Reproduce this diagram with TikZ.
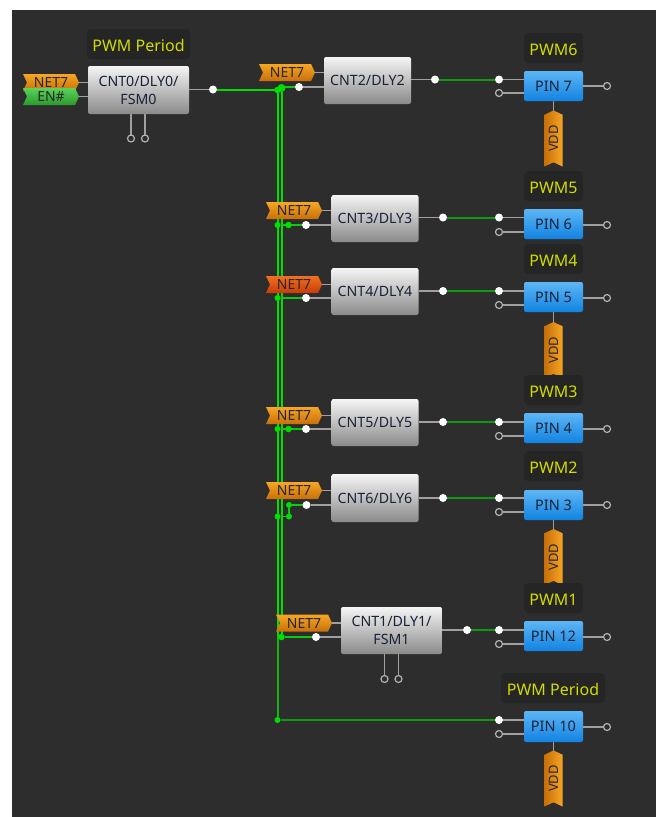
\documentclass[tikz,border=0pt]{standalone}
\usepackage{fontspec}
\setmainfont{Noto Sans}
\usetikzlibrary{backgrounds,shapes.symbols}
\definecolor{panelbg}{HTML}{2D2D2D}
\definecolor{lblbg}{HTML}{252525}
\definecolor{lblfg}{HTML}{D2DC00}
\definecolor{inkfg}{HTML}{1A2238}
\definecolor{leadgr}{HTML}{A0A0A0}
\definecolor{wirehi}{HTML}{00E000}
\definecolor{wiremd}{HTML}{10C810}
\definecolor{wiresp}{HTML}{14B414}
\definecolor{wirelo}{HTML}{109A10}
\definecolor{pintop}{HTML}{5CB6F5}
\definecolor{pinbot}{HTML}{1282E2}
\definecolor{nettop}{HTML}{F6A623}
\definecolor{netbot}{HTML}{C8700A}
\definecolor{redtop}{HTML}{F2701E}
\definecolor{redbot}{HTML}{C83C0A}
\definecolor{entop}{HTML}{5CD25C}
\definecolor{enbot}{HTML}{2A9A2A}
\tikzset{
  block/.style={rectangle,rounded corners=2pt,top color=white!96!black,bottom color=black!46,
    text=inkfg,align=center,inner sep=0pt,outer sep=0pt,font=\fontsize{14.2}{18}\selectfont},
  pinbox/.style={rectangle,rounded corners=2pt,top color=pintop,bottom color=pinbot,
    text=inkfg,minimum width=59pt,minimum height=30pt,inner sep=0pt,outer sep=0pt,
    font=\fontsize{14.5}{16}\selectfont},
  titlelbl/.style={rectangle,rounded corners=4pt,fill=lblbg,text=lblfg,minimum height=30pt,
    text height=14pt,text depth=0pt,inner sep=0pt,outer sep=0pt,font=\fontsize{16}{18}\selectfont},
  tagbase/.style={signal,signal to=east,signal from=west,signal pointer angle=130,
    minimum width=56pt,minimum height=17pt,inner sep=0pt,outer sep=0pt,text=black!85,
    font=\fontsize{14}{15}\selectfont},
  nettag/.style={tagbase,top color=nettop,bottom color=netbot},
  entag/.style={tagbase,top color=entop,bottom color=enbot},
  redtag/.style={tagbase,top color=redtop,bottom color=redbot},
  vddtag/.style={tagbase,rotate=90,left color=netbot,right color=nettop,
    minimum height=18pt,font=\fontsize{13}{14}\selectfont},
  dotw/.style={circle,fill=white,minimum size=8pt,inner sep=0pt,outer sep=0pt},
  holl/.style={circle,draw=black!30,fill=panelbg,line width=1.2pt,minimum size=7pt,inner sep=0pt,outer sep=0pt},
  jct/.style={circle,fill=wirehi,minimum size=8pt,inner sep=0pt,outer sep=0pt},
  jctsm/.style={circle,fill=wirehi,minimum size=6.5pt,inner sep=0pt,outer sep=0pt},
  lead/.style={leadgr,line width=1.1pt},
  wirea/.style={wirehi,line width=2pt},
  wireb/.style={wiremd,line width=1.8pt},
  wirec/.style={wirelo,line width=2pt},
  wired/.style={wiresp,line width=2pt},
}
\begin{document}
\begin{tikzpicture}[x=1pt,y=-1pt]
  \useasboundingbox (0,0) rectangle (659,817);
  % first counter
  \node[titlelbl,minimum width=103pt] (lbl0) at (138.5,44) {PWM Period};
  \node[block,minimum width=101pt,minimum height=48pt] (cnt0) at (138.5,90) {CNT0/DLY0/\\FSM0};
  \node[nettag] (net0) at (51,82.5) {NET7};
  \node[entag] (en0) at (51,96.5) {EN\#};
  \node[dotw] (out0) at (213,89.5) {};
  \node[holl] (rst0) at (131,138.5) {};
  \node[holl] (up0) at (145,138.5) {};
  % main junctions
  \node[jct] (jtop) at (281.5,88) {};
  \node[jctsm] (jtopl) at (277.5,90) {};
  \coordinate (jsplit) at (277.5,637);
  \node[jct,minimum size=6pt] (jbot) at (277.5,720) {};
  % counters
  \node[block,minimum width=87pt,minimum height=47pt] (cnt2) at (367.5,80.5) {CNT2/DLY2};
  \node[nettag] (net2) at (287,72.5) {NET7};
  \node[dotw] (in2) at (299,87) {};
  \node[dotw] (out2) at (435,79.5) {};
  \node[block,minimum width=87pt,minimum height=47pt] (cnt3) at (375,218.5) {CNT3/DLY3};
  \node[nettag] (net3) at (294,210.5) {NET7};
  \node[dotw] (in3) at (306,225) {};
  \node[jctsm] (ja3) at (288.5,225) {};
  \node[jctsm,minimum size=6pt] (jb3) at (277.5,225) {};
  \node[dotw] (out3) at (443,217.5) {};
  \node[block,minimum width=87pt,minimum height=47pt] (cnt4) at (375,291.5) {CNT4/DLY4};
  \node[redtag] (net4) at (294,284.5) {NET7};
  \node[dotw] (in4) at (306,298) {};
  \node[jctsm,minimum size=6pt] (jb4) at (277.5,298) {};
  \node[dotw] (out4) at (443,291) {};
  \node[block,minimum width=87pt,minimum height=47pt] (cnt5) at (375,422.5) {CNT5/DLY5};
  \node[nettag] (net5) at (294,415.5) {NET7};
  \node[dotw] (in5) at (306,429) {};
  \node[jctsm] (ja5) at (288.5,429) {};
  \node[jctsm,minimum size=6pt] (jb5) at (277.5,429) {};
  \node[dotw] (out5) at (443,422) {};
  \node[block,minimum width=87pt,minimum height=48pt] (cnt6) at (375,498) {CNT6/DLY6};
  \node[nettag] (net6) at (294,490.5) {NET7};
  \node[dotw] (in6) at (306.5,505) {};
  \node[jctsm,minimum size=6pt] (ja6) at (289,505) {};
  \node[jctsm,minimum size=6pt] (jc6) at (289,516.5) {};
  \node[jctsm,minimum size=6pt] (jb6) at (277.5,516.5) {};
  \node[dotw] (out6) at (443,498) {};
  \node[block,minimum width=101pt,minimum height=47pt] (cnt1) at (391.5,630.5) {CNT1/DLY1/\\FSM1};
  \node[nettag] (net1) at (304,623) {NET7};
  \node[dotw] (in1) at (316,637) {};
  \node[jct,minimum size=6.5pt] (jb1) at (281.5,637) {};
  \node[dotw] (out1) at (467,630) {};
  \node[holl] (rst1) at (384.5,679) {};
  \node[holl] (up1) at (398.5,679) {};
  % pins
  \node[vddtag] (vdd7) at (553.5,138.5) {VDD};
  \node[vddtag] (vdd5) at (553.5,350) {VDD};
  \node[vddtag] (vdd3) at (553.5,557) {VDD};
  \node[vddtag] (vdd10) at (553.5,778.5) {VDD};
  \node[titlelbl,minimum width=59pt] (lbl7) at (553.5,48) {PWM6};
  \node[pinbox] (pin7) at (553.5,86) {PIN 7};
  \node[dotw] (pa7) at (499,79.5) {};
  \node[holl] (pb7) at (499,93) {};
  \node[holl] (pc7) at (607,86) {};
  \node[titlelbl,minimum width=59pt] (lbl6) at (553.5,186) {PWM5};
  \node[pinbox] (pin6) at (553.5,224) {PIN 6};
  \node[dotw] (pa6) at (499,217.5) {};
  \node[holl] (pb6) at (499,232) {};
  \node[holl] (pc6) at (607,225) {};
  \node[titlelbl,minimum width=59pt] (lbl5) at (553.5,259) {PWM4};
  \node[pinbox] (pin5) at (553.5,297) {PIN 5};
  \node[dotw] (pa5) at (499,291) {};
  \node[holl] (pb5) at (499,305) {};
  \node[holl] (pc5) at (607,298) {};
  \node[titlelbl,minimum width=59pt] (lbl4) at (553.5,390) {PWM3};
  \node[pinbox] (pin4) at (553.5,428) {PIN 4};
  \node[dotw] (pa4) at (499,422) {};
  \node[holl] (pb4) at (499,436) {};
  \node[holl] (pc4) at (607,429) {};
  \node[titlelbl,minimum width=59pt] (lbl3) at (553.5,466) {PWM2};
  \node[pinbox] (pin3) at (553.5,505) {PIN 3};
  \node[dotw] (pa3) at (499,498) {};
  \node[holl] (pb3) at (499,512) {};
  \node[holl] (pc3) at (607,505) {};
  \node[titlelbl,minimum width=59pt] (lbl12) at (553.5,598) {PWM1};
  \node[pinbox] (pin12) at (553.5,636) {PIN 12};
  \node[dotw] (pa12) at (499,630) {};
  \node[holl] (pb12) at (499,644) {};
  \node[holl] (pc12) at (607,637) {};
  \node[titlelbl,minimum width=104pt] (lbl10) at (553,688) {PWM Period};
  \node[pinbox,minimum height=31pt] (pin10) at (553.5,726.5) {PIN 10};
  \node[dotw] (pa10) at (499,720) {};
  \node[holl] (pb10) at (499,734) {};
  \node[holl] (pc10) at (607,727) {};
  \begin{scope}[on background layer]
    \fill[panelbg] (12,10) rectangle (656,817);
    % leads
    \draw[lead] (net0.east)--(cnt0.west |- net0.east); \draw[lead] (en0.east)--(cnt0.west |- en0.east);
    \draw[lead] (cnt0.east |- out0)--(out0); \draw[lead] (rst0)--(rst0 |- cnt0.south); \draw[lead] (up0)--(up0 |- cnt0.south);
    \draw[lead] (net2.east)--(cnt2.west |- net2.east); \draw[lead] (in2)--(cnt2.west |- in2); \draw[lead] (cnt2.east |- out2)--(out2);
    \draw[lead] (net3.east)--(cnt3.west |- net3.east); \draw[lead] (in3)--(cnt3.west |- in3); \draw[lead] (cnt3.east |- out3)--(out3);
    \draw[lead] (net4.east)--(cnt4.west |- net4.east); \draw[lead] (in4)--(cnt4.west |- in4); \draw[lead] (cnt4.east |- out4)--(out4);
    \draw[lead] (net5.east)--(cnt5.west |- net5.east); \draw[lead] (in5)--(cnt5.west |- in5); \draw[lead] (cnt5.east |- out5)--(out5);
    \draw[lead] (net6.east)--(cnt6.west |- net6.east); \draw[lead] (in6)--(cnt6.west |- in6); \draw[lead] (cnt6.east |- out6)--(out6);
    \draw[lead] (net1.east)--(cnt1.west |- net1.east); \draw[lead] (in1)--(cnt1.west |- in1); \draw[lead] (cnt1.east |- out1)--(out1);
    \draw[lead] (rst1)--(rst1 |- cnt1.south); \draw[lead] (up1)--(up1 |- cnt1.south);
    \draw[lead] (pa7)--(pin7.west |- pa7); \draw[lead] (pb7)--(pin7.west |- pb7); \draw[lead] (pin7.east |- pc7)--(pc7); \draw[lead] (pin7.south)--(vdd7.east);
    \draw[lead] (pa6)--(pin6.west |- pa6); \draw[lead] (pb6)--(pin6.west |- pb6); \draw[lead] (pin6.east |- pc6)--(pc6);
    \draw[lead] (pa5)--(pin5.west |- pa5); \draw[lead] (pb5)--(pin5.west |- pb5); \draw[lead] (pin5.east |- pc5)--(pc5); \draw[lead] (pin5.south)--(vdd5.east);
    \draw[lead] (pa4)--(pin4.west |- pa4); \draw[lead] (pb4)--(pin4.west |- pb4); \draw[lead] (pin4.east |- pc4)--(pc4);
    \draw[lead] (pa3)--(pin3.west |- pa3); \draw[lead] (pb3)--(pin3.west |- pb3); \draw[lead] (pin3.east |- pc3)--(pc3); \draw[lead] (pin3.south)--(vdd3.east);
    \draw[lead] (pa12)--(pin12.west |- pa12); \draw[lead] (pb12)--(pin12.west |- pb12); \draw[lead] (pin12.east |- pc12)--(pc12);
    \draw[lead] (pa10)--(pin10.west |- pa10); \draw[lead] (pb10)--(pin10.west |- pb10); \draw[lead] (pin10.east |- pc10)--(pc10); \draw[lead] (pin10.south)--(vdd10.east);
    % wires
    \draw[wirea] (out0)--(out0 -| jtop); \draw[wireb] (jtop |- in2)--(in2);
    \draw[wirea] (jtopl)--(jsplit); \draw[wirea] (jtop)--(jb1);
    \draw[wired] (jsplit)--(jbot); \draw[wirec] (jbot)--(pa10);
    \draw[wireb] (jb3)--(in3); \draw[wireb] (jb4)--(in4); \draw[wireb] (jb5)--(in5);
    \draw[wireb] (in6)--(ja6)--(jc6)--(jb6); \draw[wireb] (jb1)--(in1);
    \draw[wirec] (out2)--(pa7); \draw[wirec] (out3)--(pa6); \draw[wirec] (out4)--(pa5);
    \draw[wirec] (out5)--(pa4); \draw[wirec] (out6)--(pa3); \draw[wirec] (out1)--(pa12);
  \end{scope}
\end{tikzpicture}
\end{document}
